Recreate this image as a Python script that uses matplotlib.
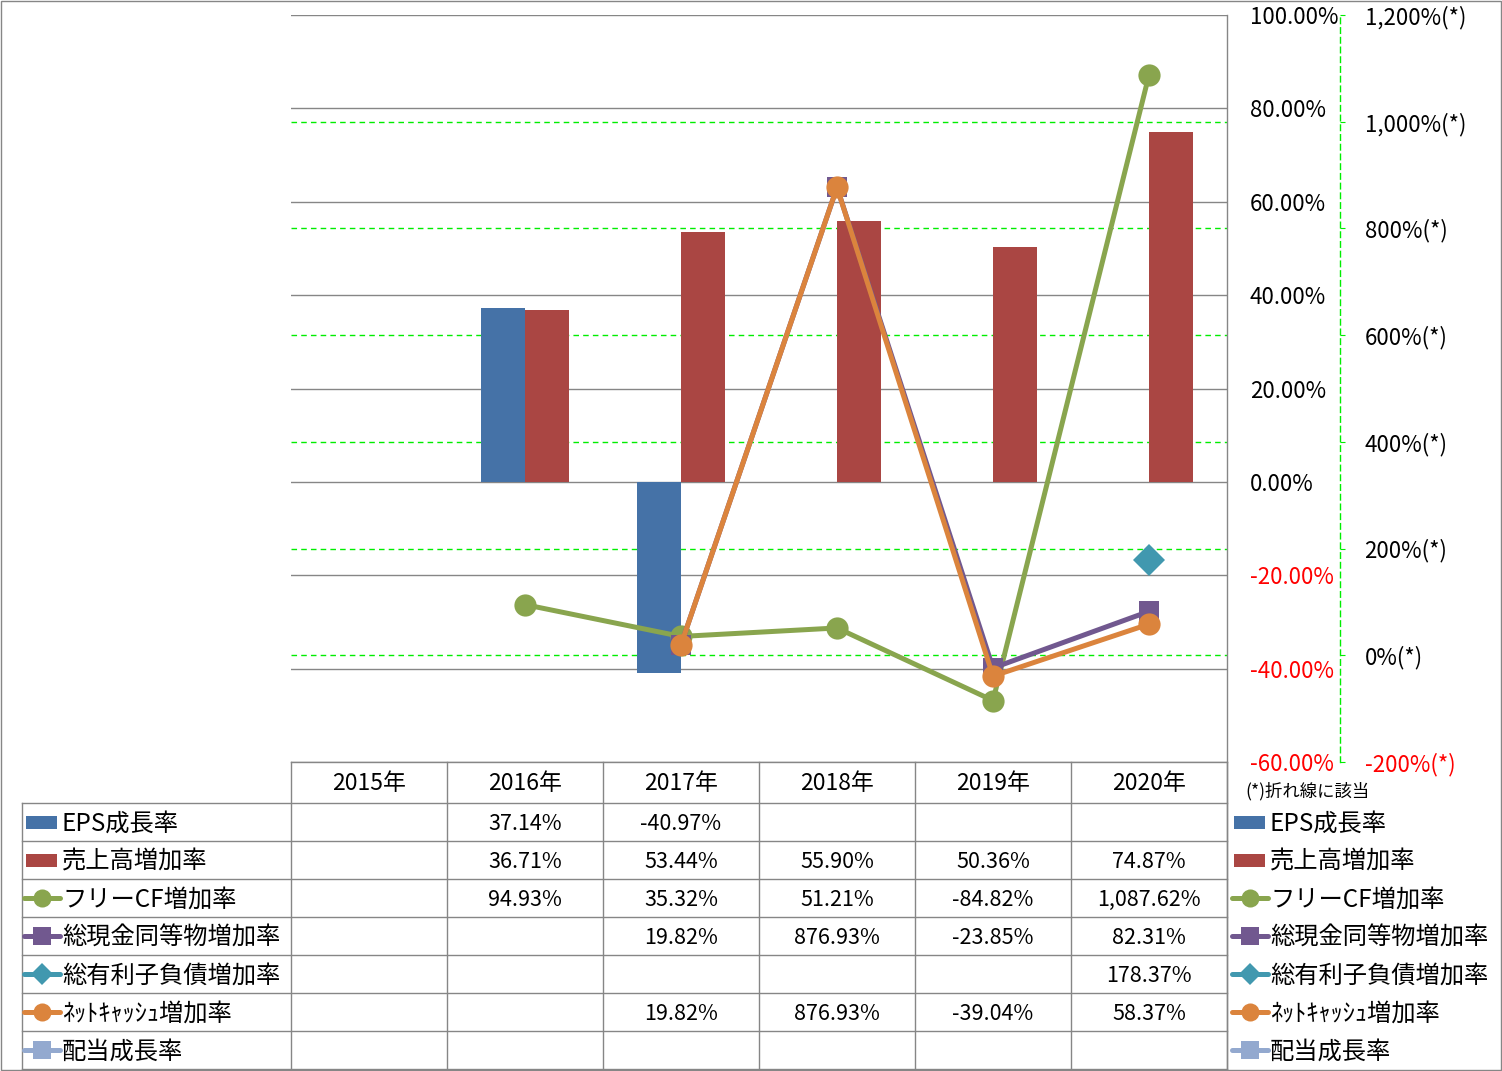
import numpy as np
import matplotlib
matplotlib.use('Agg')
import matplotlib.pyplot as plt
from matplotlib.patches import Rectangle
from matplotlib.lines import Line2D
from matplotlib.transforms import blended_transform_factory

plt.rcParams['font.family'] = ['Noto Sans CJK JP', 'DejaVu Sans']

nan = np.nan

# data
years = ['2015年', '2016年', '2017年', '2018年', '2019年', '2020年']
eps_growth = [nan, 37.14, -40.97, nan, nan, nan]
sales_growth = [nan, 36.71, 53.44, 55.90, 50.36, 74.87]
fcf_growth = [nan, 94.93, 35.32, 51.21, -84.82, 1087.62]
cash_growth = [nan, nan, 19.82, 876.93, -23.85, 82.31]
debt_growth = [nan, nan, nan, nan, nan, 178.37]
netcash_growth = [nan, nan, 19.82, 876.93, -39.04, 58.37]
dividend_growth = [nan, nan, nan, nan, nan, nan]

primary_ticks = [-60, -40, -20, 0, 20, 40, 60, 80, 100]
secondary_ticks = [-200, 0, 200, 400, 600, 800, 1000, 1200]

# series: name, values, colour, kind, marker
series = [
    ('EPS成長率', eps_growth, '#4572A7', 'bar', None),
    ('売上高増加率', sales_growth, '#AA4643', 'bar', None),
    ('フリーCF増加率', fcf_growth, '#89A54E', 'line', 'o'),
    ('総現金同等物増加率', cash_growth, '#71588F', 'line', 's'),
    ('総有利子負債増加率', debt_growth, '#4198AF', 'line', 'D'),
    ('ﾈｯﾄｷｬｯｼｭ増加率', netcash_growth, '#DB843D', 'line', 'o'),
    ('配当成長率', dividend_growth, '#93A9CF', 'line', 's'),
]
marker_sizes = {'o': 16, 's': 15, 'D': 16}

W, H = 1502, 1071
GRID = '#868686'
GREEN = '#00EE00'

fig = plt.figure(figsize=(W / 100, H / 100), dpi=100)

ax = fig.add_axes([291 / W, 1 - 762 / H, 936 / W, 747 / H])
ax2 = ax.twinx()

x = np.arange(len(years))
ax.set_xlim(-0.5, len(years) - 0.5)
ax.set_ylim(-60, 100)
ax2.set_ylim(-200, 1200)

# bars (primary axis)
bw = 0.285
ax.bar(x - bw / 2, eps_growth, width=bw, color=series[0][2], zorder=3)
ax.bar(x + bw / 2, sales_growth, width=bw, color=series[1][2], zorder=3)

# gridlines
for v in primary_ticks:
    ax.axhline(v, color=GRID, lw=1.0, zorder=1)
tr = blended_transform_factory(ax.transAxes, ax2.transData)
for v in secondary_ticks[1:-1]:
    ax.plot([0, 1], [v, v], transform=tr, color=GREEN, lw=1.0,
            ls=(0, (4, 3)), zorder=1)

ax.set_xticks([])
for s in ax.spines.values():
    s.set_visible(False)
ax.yaxis.tick_right()
ax.set_yticks(primary_ticks)
ax.set_yticklabels([f'{v:.2f}%' for v in primary_ticks])
ax.tick_params(axis='y', length=0, pad=16.5, labelsize=16)
for lbl, v in zip(ax.get_yticklabels(), primary_ticks):
    lbl.set_color('#FF0000' if v < 0 else 'black')

# lines (secondary axis)
for name, vals, col, kind, mk in series:
    if kind != 'line':
        continue
    ax2.plot(x, vals, color=col, lw=3.6, marker=mk, ms=marker_sizes[mk],
             markeredgewidth=0, solid_capstyle='round')

for k in ['top', 'left', 'bottom']:
    ax2.spines[k].set_visible(False)
ax2.spines['right'].set_position(('outward', 81.4))
ax2.spines['right'].set_color(GREEN)
ax2.spines['right'].set_linestyle((0, (4, 3)))
ax2.spines['right'].set_linewidth(1.0)
ax2.set_yticks(secondary_ticks)
ax2.set_yticklabels([f'{v:,}%(*)' for v in secondary_ticks])
ax2.tick_params(axis='y', length=3.6, width=0.8, color=GREEN, pad=14, labelsize=16)
for lbl, v in zip(ax2.get_yticklabels(), secondary_ticks):
    lbl.set_color('#FF0000' if v < 0 else 'black')

# data table + legends, drawn in pixel space
ov = fig.add_axes([0, 0, 1, 1])
ov.set_xlim(0, W)
ov.set_ylim(H, 0)
ov.axis('off')

col_edges = [291 + 156 * i for i in range(len(years) + 1)]
row_edges = [803 + 38 * i for i in range(len(series) + 1)]

ov.plot([291, 1227], [762, 762], color=GRID, lw=1.0)
for y in row_edges:
    ov.plot([22, 1227], [y, y], color=GRID, lw=1.0)
for xe in col_edges:
    ov.plot([xe, xe], [762, 1069], color=GRID, lw=1.0)
ov.plot([1227, 1227], [15, 1069], color=GRID, lw=1.0)
ov.plot([22, 22], [803, 1069], color=GRID, lw=1.0)
ov.add_patch(Rectangle((0.5, 0.5), W - 2, 1069, fill=False, edgecolor=GRID, lw=1.0))

for i, yr in enumerate(years):
    ov.text((col_edges[i] + col_edges[i + 1]) / 2, 784, yr, ha='center',
            va='center', fontsize=16.5)


def legend_handle(x0, yc, col, kind, mk):
    if kind == 'bar':
        ov.add_patch(Rectangle((x0 + 4, yc - 6.5), 31, 13, color=col, lw=0))
    else:
        ov.add_line(Line2D([x0 + 2, x0 + 38], [yc, yc], color=col, lw=3.6,
                           solid_capstyle='round'))
        ms = 13 if mk != 'D' else 11
        ov.add_line(Line2D([x0 + 20], [yc], color=col, marker=mk, ms=ms,
                           markeredgewidth=0))


for r, (name, vals, col, kind, mk) in enumerate(series):
    yc = (row_edges[r] + row_edges[r + 1]) / 2
    legend_handle(22, yc, col, kind, mk)
    ov.text(62, yc + 2, name, ha='left', va='center', fontsize=17.5)
    legend_handle(1230, yc, col, kind, mk)
    ov.text(1270, yc + 2, name, ha='left', va='center', fontsize=17.5)
    for i, v in enumerate(vals):
        if not np.isnan(v):
            ov.text((col_edges[i] + col_edges[i + 1]) / 2, yc + 2, f'{v:,.2f}%',
                    ha='center', va='center', fontsize=15.5)

ov.text(1245, 791, '(*)折れ線に該当', ha='left', va='center', fontsize=12.5)

fig.savefig('out.png', dpi=100)
